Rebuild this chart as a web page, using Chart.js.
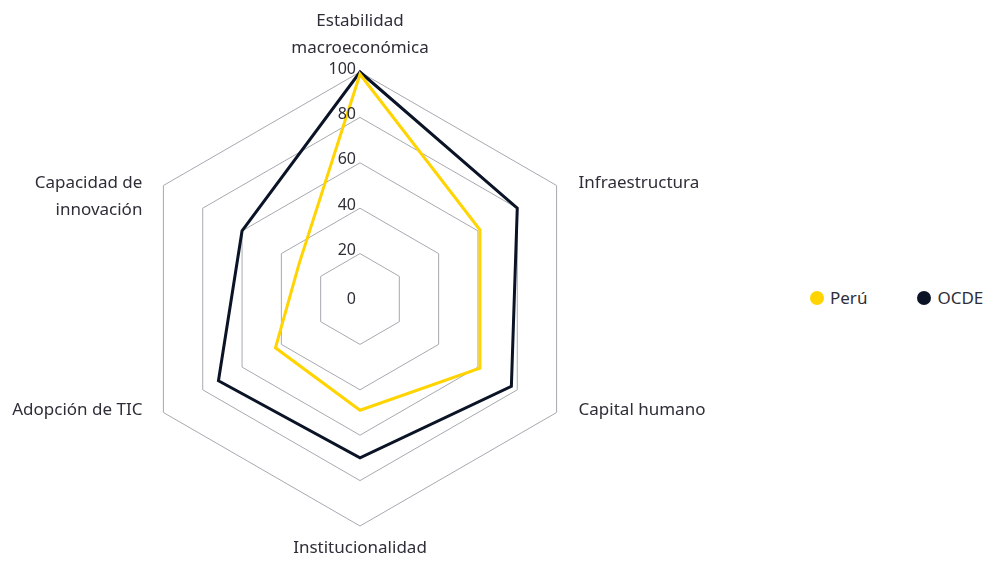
<!DOCTYPE html>
<html>
<head>
<meta charset="utf-8">
<script src="https://cdn.jsdelivr.net/npm/chart.js@4/dist/chart.umd.min.js"></script>
<style>
  html, body { margin: 0; padding: 0; background: #ffffff; }
  #wrap { position: relative; width: 991px; height: 566px; }
  #grafRadar { position: absolute; left: 0; top: 0; }
  #leyenda {
    position: absolute; left: 810px; top: 286px;
    font-family: "Noto Sans", sans-serif; font-size: 17px; color: #2e2e38;
    display: flex; gap: 50px; white-space: nowrap; line-height: 24px;
  }
  #leyenda span.item { display: flex; align-items: center; }
  #leyenda span.dot { width: 14px; height: 14px; border-radius: 50%; margin-right: 6px; display: inline-block; }
</style>
</head>
<body>
<div id="wrap">
  <canvas id="grafRadar" width="720" height="566"></canvas>
  <div id="leyenda"></div>
</div>
<script>
/* =====================================
   DATOS
===================================== */

const categorias = [
    ["Estabilidad", "macroeconómica"],
    "Infraestructura",
    "Capital humano",
    "Institucionalidad",
    "Adopción de TIC",
    ["Capacidad de", "innovación"]
];

const valoresPeru = [99, 61, 61, 49, 43, 31];
const valoresOcde = [100, 80, 77, 70, 72, 60];

const series = ["Perú", "OCDE"];
const coloresSerie = ["#ffd400", "#0b1426"];

const tickValores = [0, 20, 40, 60, 80, 100];

const colorTexto = "#2e2e38";
const fuente = "'Noto Sans', sans-serif";

/* =====================================
   ETIQUETAS (EJES Y TICKS)
===================================== */

const etiquetasRadar = {
    id: "etiquetasRadar",
    afterDraw(chart){
        const escala = chart.scales.r;
        const ctx = chart.ctx;
        ctx.save();
        ctx.fillStyle = colorTexto;
        ctx.textBaseline = "middle";

        // ticks
        ctx.font = "16px " + fuente;
        ctx.textAlign = "right";
        tickValores.forEach(v => {
            const d = escala.getDistanceFromCenterForValue(v);
            const ajuste = v === 0 ? 0 : -3;
            ctx.fillText(String(v), escala.xCenter - 4, escala.yCenter - d + ajuste);
        });

        // etiquetas de los ejes
        ctx.font = "17px " + fuente;
        const salto = 27;
        chart.data.labels.forEach((etq, i) => {
            const lineas = Array.isArray(etq) ? etq : [etq];
            const p = escala.getPointPosition(i, escala.drawingArea);
            const dx = p.x - escala.xCenter;
            const dy = p.y - escala.yCenter;
            if(Math.abs(dx) < 1){
                ctx.textAlign = "center";
                if(dy < 0){
                    lineas.forEach((l, k) => {
                        ctx.fillText(l, p.x, p.y - 24 - (lineas.length - 1 - k) * salto);
                    });
                } else {
                    lineas.forEach((l, k) => {
                        ctx.fillText(l, p.x, p.y + 22 + k * salto);
                    });
                }
            } else {
                ctx.textAlign = dx > 0 ? "left" : "right";
                const x = dx > 0 ? p.x + 22 : p.x - 21;
                lineas.forEach((l, k) => {
                    ctx.fillText(l, x, p.y - 2 + k * salto);
                });
            }
        });
        ctx.restore();
    }
};

/* =====================================
   GRAFICA
===================================== */

const chartRadar = new Chart(
    document.getElementById("grafRadar"),
    {
        type: "radar",
        data: {
            labels: categorias,
            datasets: [
                {
                    label: series[0],
                    data: valoresPeru,
                    borderColor: coloresSerie[0],
                    backgroundColor: coloresSerie[0],
                    borderWidth: 3,
                    fill: false,
                    pointRadius: 0,
                    tension: 0
                },
                {
                    label: series[1],
                    data: valoresOcde,
                    borderColor: coloresSerie[1],
                    backgroundColor: coloresSerie[1],
                    borderWidth: 3,
                    fill: false,
                    pointRadius: 0,
                    tension: 0
                }
            ]
        },
        options: {
            responsive: false,
            animation: false,
            layout: {
                padding: { top: 72, bottom: 40, left: 0, right: 0 }
            },
            plugins: {
                legend: { display: false },
                tooltip: { enabled: false }
            },
            scales: {
                r: {
                    min: tickValores[0],
                    max: tickValores[tickValores.length - 1],
                    angleLines: { display: false },
                    grid: { color: "#a6a9af", lineWidth: 1 },
                    ticks: {
                        stepSize: 20,
                        display: false
                    },
                    pointLabels: {
                        display: false
                    }
                }
            }
        },
        plugins: [etiquetasRadar]
    }
);

/* =====================================
   LEYENDA
===================================== */

const leyenda = document.getElementById("leyenda");
series.forEach((nombre, i) => {
    const item = document.createElement("span");
    item.className = "item";
    const dot = document.createElement("span");
    dot.className = "dot";
    dot.style.background = coloresSerie[i];
    item.appendChild(dot);
    item.appendChild(document.createTextNode(nombre));
    leyenda.appendChild(item);
});
</script>
</body>
</html>
